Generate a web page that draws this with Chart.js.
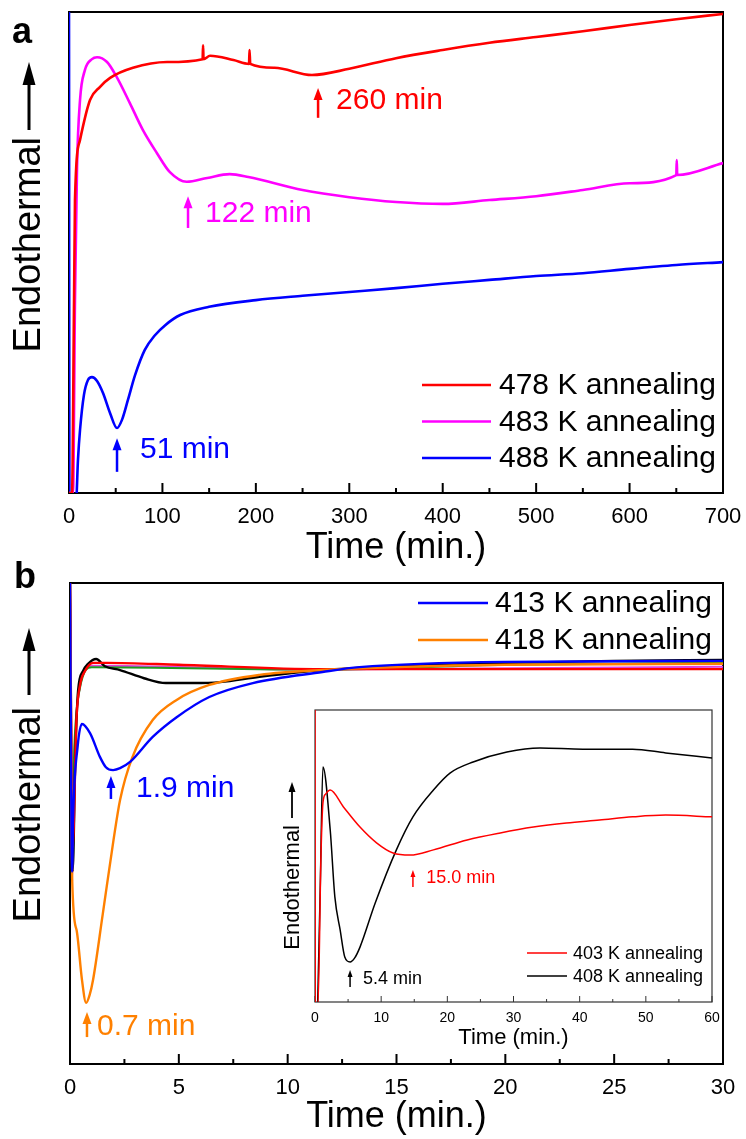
<!DOCTYPE html>
<html><head><meta charset="utf-8">
<script src="https://cdn.jsdelivr.net/npm/chart.js@4.4.1/dist/chart.umd.min.js"></script>
<style>
html,body{margin:0;padding:0;background:#fff;width:746px;height:1139px;overflow:hidden;}
canvas{position:absolute;}
</style></head><body>
<canvas id="ca" width="746" height="570" style="left:0;top:0;width:746px;height:570px"></canvas>
<canvas id="cb" width="746" height="584" style="left:0;top:555px;width:746px;height:584px"></canvas>
<canvas id="ci" width="460" height="360" style="left:270px;top:700px;width:460px;height:360px"></canvas>
<script>
const FONT = '"Liberation Sans", Arial, Helvetica, sans-serif';

// ---------- Panel a (0-700 min) ----------
const timeA478 = [0, 3.2, 5.4, 6.4, 11.8, 22.5, 33, 44, 68.5, 105, 143, 143.5, 144, 151, 176, 192.7, 193.2, 194, 220, 260, 300, 350, 400, 450, 500, 550, 600, 650, 700];
const endoA478 = [0, 0, 40.1, 60.9, 73.4, 81.7, 84.4, 86.3, 88.4, 89.6, 90.2, 93.1, 90.2, 90.9, 90.0, 89.2, 92.1, 89.2, 88.4, 86.9, 88.2, 90.4, 92.1, 93.6, 94.8, 96.0, 97.3, 98.5, 99.6];
const timeA483 = [0, 4.3, 6.4, 8.6, 11.8, 17, 24.6, 30, 40.7, 51, 65, 79, 94, 108, 126, 148, 172, 192, 250, 300, 350, 400, 450, 500, 550, 600, 650, 650.5, 651, 700];
const endoA483 = [0, 0, 40.1, 67.8, 81.7, 87.9, 90.2, 90.6, 89.6, 86.5, 81.1, 75.5, 70.7, 66.7, 64.7, 65.5, 66.3, 65.7, 63.0, 61.5, 60.5, 60.1, 60.9, 61.7, 63.0, 64.4, 66.1, 69.2, 66.1, 68.6];
const timeA488 = [0, 0.5, 7.5, 9.6, 11.8, 16, 20.3, 24.6, 30, 36.4, 44, 51.4, 56.7, 63, 70.7, 81, 92, 103, 119, 150, 200, 250, 300, 350, 400, 450, 500, 550, 600, 650, 700];
const endoA488 = [100, -2, -2, 6.9, 13.1, 20.4, 23.5, 24.1, 23.3, 20.8, 16.6, 13.5, 15.2, 19.3, 24.5, 29.7, 32.8, 34.9, 37.0, 38.7, 40.1, 41.0, 41.8, 42.6, 43.5, 44.3, 45.1, 45.7, 46.6, 47.4, 48.0];
const ticksA = [0, 100, 200, 300, 400, 500, 600, 700];
const minorA = [50, 150, 250, 350, 450, 550, 650];

// ---------- Panel b (0-30 min) ----------
const timeBred = [0, 0.12, 0.3, 0.46, 0.69, 1.06, 1.7, 5, 11.6, 20, 30];
const endoBred = [100, 45, 72, 78.8, 81.7, 83.4, 83.4, 83.0, 82.1, 82.1, 82.1];
const timeBblk = [0, 0.12, 0.25, 0.37, 0.6, 0.83, 1.2, 1.6, 2.3, 3.4, 4.4, 5.7, 6.9, 8.7, 11.6, 15, 20, 25, 30];
const endoBblk = [100, 40, 65, 77.5, 81.7, 83.2, 84.2, 82.7, 81.9, 80.2, 79.2, 79.2, 79.4, 80.5, 81.9, 82.7, 83.4, 83.8, 84.0];
const timeB413 = [0, 0.1, 0.14, 0.35, 0.55, 0.92, 1.38, 1.65, 1.98, 2.3, 2.76, 3.8, 4.9, 6.4, 8.4, 11.6, 13.3, 20, 30];
const endoB413 = [100, 40, 50.7, 66, 70.7, 68.8, 63.8, 61.7, 61.1, 61.5, 62.8, 68.0, 72.1, 76.3, 79.2, 81.5, 82.5, 83.6, 83.8];
const timeB418 = [0, 0.1, 0.3, 0.55, 0.74, 0.9, 1.06, 1.5, 2.0, 2.3, 2.85, 3.8, 4.9, 6.4, 8.7, 11.6, 20, 30];
const endoB418 = [100, 38.3, 27.9, 17.5, 12.7, 14.3, 17.5, 31.0, 46.6, 54.9, 63.6, 71.5, 75.7, 78.8, 80.9, 81.9, 83.0, 83.2];
const timeBgrn = [0, 0.08, 0.2, 0.45, 1.0, 11.6, 20, 30];
const endoBgrn = [100, 45, 66, 78, 82.5, 82, 83, 83.4];
const timeBmag = [0, 0.1, 0.18, 0.4, 1.0, 11.6, 30];
const endoBmag = [100, 38, 60, 77, 82.8, 82, 82.6];
const ticksB = [0, 5, 10, 15, 20, 25, 30];
const minorB = [2.5, 7.5, 12.5, 17.5, 22.5, 27.5];

// ---------- Inset (0-60 min) ----------
const timeI403 = [0, 0.05, 0.45, 0.9, 1.2, 1.6, 2.3, 4.3, 6.8, 9.3, 11.8, 14.4, 17.9, 23, 28, 33, 38, 43, 48, 53, 60];
const endoI403 = [100, -1, -1, 50, 68.2, 71.2, 72.6, 66.8, 59.9, 54.5, 51.0, 50.3, 52.1, 55.5, 57.9, 59.9, 61.3, 62.3, 63.4, 64.0, 63.4];
const timeI408 = [0.4, 0.8, 1.2, 2.3, 3.0, 3.8, 4.5, 5.3, 6.0, 6.8, 9.1, 12.3, 14.8, 17.9, 20.4, 23.9, 29, 34, 40.5, 48, 53, 60];
const endoI408 = [-1, 40, 80.5, 58.9, 36.0, 24.7, 15.4, 13.7, 15.1, 18.8, 33.9, 52.1, 63.4, 72.6, 78.4, 82.2, 85.6, 87.0, 86.6, 86.6, 85.3, 83.6];
const ticksI = [0, 10, 20, 30, 40, 50, 60];
const minorI = [5, 15, 25, 35, 45, 55];

// annotations: arrow at x from y0 up to y1, text at (tx, ty)
const notesA = [
  {x: 266.6, y0: 78.0, y1: 84.2, tx: 285.9, ty: 81.5, text: '260 min', color: '#ff0000'},
  {x: 127.4, y0: 55.1, y1: 61.7, tx: 145.6, ty: 58.0, text: '122 min', color: '#ff00ff'},
  {x: 51.4, y0: 4.4, y1: 11.4, tx: 76, ty: 8.9, text: '51 min', color: '#0000ff'}
];
const notesB = [
  {x: 1.88, y0: 55.1, y1: 59.9, tx: 3.03, ty: 57.2, text: '1.9 min', color: '#0000ff'},
  {x: 0.78, y0: 5.6, y1: 10.8, tx: 1.24, ty: 7.7, text: '0.7 min', color: '#ff8000'}
];
const notesI = [
  {x: 14.8, y0: 39.4, y1: 45.2, tx: 16.8, ty: 42.5, text: '15.0 min', color: '#ff0000'},
  {x: 5.3, y0: 5.1, y1: 11.0, tx: 7.25, ty: 7.9, text: '5.4 min', color: '#000000'}
];

const pts = (xs, ys) => xs.map((x, i) => ({x: x, y: ys[i]}));
function ds(label, xs, ys, color, w, legend) {
  return {label: label, data: pts(xs, ys), borderColor: color, backgroundColor: color, borderWidth: w,
    pointRadius: 0, fill: false, cubicInterpolationMode: 'monotone', showInLegend: legend};
}

function arrow(ctx, x, yb, yt, headLen, headW, lw, color) {
  ctx.save();
  ctx.strokeStyle = color; ctx.fillStyle = color; ctx.lineWidth = lw;
  ctx.beginPath(); ctx.moveTo(x, yb); ctx.lineTo(x, yt + headLen * 0.7); ctx.stroke();
  ctx.beginPath(); ctx.moveTo(x, yt); ctx.lineTo(x - headW / 2, yt + headLen); ctx.lineTo(x + headW / 2, yt + headLen); ctx.closePath(); ctx.fill();
  ctx.restore();
}

function deco(cfg) {
  return {
    id: 'deco',
    beforeDraw(chart) {
      if (cfg.whiteBg) {
        const a = chart.chartArea, ctx = chart.ctx;
        ctx.save(); ctx.fillStyle = '#fff'; ctx.fillRect(a.left, a.top, a.right - a.left, a.bottom - a.top); ctx.restore();
      }
    },
    beforeDatasetsDraw(chart) {
      const a = chart.chartArea, ctx = chart.ctx, xs = chart.scales.x;
      ctx.save();
      ctx.strokeStyle = cfg.frameColor; ctx.lineWidth = cfg.frameW;
      ctx.strokeRect(a.left, a.top, a.right - a.left, a.bottom - a.top);
      ctx.lineWidth = cfg.tickW;
      const draw = (v, len) => { const p = xs.getPixelForValue(v); ctx.beginPath(); ctx.moveTo(p, a.bottom); ctx.lineTo(p, a.bottom - len); ctx.stroke(); };
      cfg.major.forEach(v => draw(v, cfg.majorLen));
      cfg.minor.forEach(v => draw(v, cfg.minorLen));
      ctx.restore();
    },
    afterDraw(chart) {
      const ctx = chart.ctx, xs = chart.scales.x, ys = chart.scales.y;
      ctx.save();
      // legend
      const L = cfg.legend;
      let row = 0;
      chart.data.datasets.forEach(d => {
        if (!d.showInLegend) return;
        const y = L.y + row * L.dy;
        ctx.strokeStyle = d.borderColor; ctx.lineWidth = L.lw;
        ctx.beginPath(); ctx.moveTo(L.x0, y); ctx.lineTo(L.x1, y); ctx.stroke();
        ctx.fillStyle = '#000'; ctx.font = L.font + 'px ' + FONT; ctx.textAlign = 'left'; ctx.textBaseline = 'middle';
        ctx.fillText(d.label, L.tx, y + 1);
        row++;
      });
      // annotations
      const N = cfg.note;
      cfg.notes.forEach(n => {
        const x = xs.getPixelForValue(n.x);
        arrow(ctx, x, ys.getPixelForValue(n.y0), ys.getPixelForValue(n.y1), N.head, N.headW, N.lw, n.color);
        ctx.fillStyle = n.color; ctx.font = N.font + 'px ' + FONT; ctx.textAlign = 'left'; ctx.textBaseline = 'middle';
        ctx.fillText(n.text, xs.getPixelForValue(n.tx), ys.getPixelForValue(n.ty));
      });
      // y label with arrow
      const Y = cfg.ylab;
      ctx.save();
      ctx.translate(Y.x, Y.textEnd); ctx.rotate(-Math.PI / 2);
      ctx.fillStyle = '#000'; ctx.font = Y.font + 'px ' + FONT; ctx.textAlign = 'right'; ctx.textBaseline = 'middle';
      ctx.fillText('Endothermal', 0, 1);
      ctx.restore();
      arrow(ctx, Y.x, Y.ab, Y.at, Y.head, Y.headW, Y.lw, '#000');
      // panel letter
      if (cfg.letter) {
        ctx.fillStyle = '#000'; ctx.font = 'bold 36px ' + FONT; ctx.textAlign = 'left'; ctx.textBaseline = 'alphabetic';
        ctx.fillText(cfg.letter.t, cfg.letter.x, cfg.letter.y);
      }
      ctx.restore();
    }
  };
}

function makeChart(id, datasets, o) {
  return new Chart(document.getElementById(id), {
    type: 'line',
    data: {datasets: datasets},
    options: {
      responsive: false, animation: false, events: [],
      layout: {padding: o.pad},
      plugins: {legend: {display: false}, tooltip: {enabled: false}},
      scales: {
        x: {type: 'linear', min: o.xmin, max: o.xmax,
          afterBuildTicks: s => { s.ticks = o.ticks.map(v => ({value: v})); },
          afterFit: s => { s.height = o.axisH; },
          grid: {display: false}, border: {display: false},
          ticks: {font: {family: FONT, size: o.tickFont}, color: '#000', padding: o.tickPad, maxRotation: 0, autoSkip: false},
          title: {display: true, text: 'Time (min.)', color: '#000', font: {family: FONT, size: o.titleFont}, padding: {top: 0, bottom: o.titlePad}}
        },
        y: {type: 'linear', min: 0, max: 100, display: false}
      }
    },
    plugins: [deco(o.deco)]
  });
}

makeChart('ca', [
  ds('478 K annealing', timeA478, endoA478, '#ff0000', 2.6, true),
  ds('483 K annealing', timeA483, endoA483, '#ff00ff', 2.6, true),
  ds('488 K annealing', timeA488, endoA488, '#0000ff', 2.6, true)
], {
  pad: {left: 69, right: 23, top: 12, bottom: 0}, xmin: 0, xmax: 700, ticks: ticksA, axisH: 77,
  tickFont: 22, tickPad: 3, titleFont: 36, titlePad: 0,
  deco: {frameColor: '#000', frameW: 2, tickW: 2, major: ticksA, minor: minorA, majorLen: 10, minorLen: 5,
    legend: {x0: 422, x1: 491, tx: 499, y: 385, dy: 36.5, font: 30, lw: 2.5},
    notes: notesA, note: {font: 30, head: 12, headW: 9, lw: 2.5},
    ylab: {x: 29, textEnd: 137, font: 38, ab: 130, at: 62, head: 23, headW: 13, lw: 3},
    letter: {t: 'a', x: 12, y: 43}}
});

makeChart('cb', [
  ds('413 K annealing', timeB413, endoB413, '#0000ff', 2.4, true),
  ds('418 K annealing', timeB418, endoB418, '#ff8000', 2.4, true),
  ds('403 K annealing', timeBred, endoBred, '#ff0000', 2.4, false),
  ds('408 K annealing', timeBblk, endoBblk, '#000000', 2.4, false),
  ds('green', timeBgrn, endoBgrn, '#1f9a1f', 2, false),
  ds('magenta', timeBmag, endoBmag, '#e040e0', 2, false)
], {
  pad: {left: 70, right: 23, top: 28, bottom: 0}, xmin: 0, xmax: 30, ticks: ticksB, axisH: 75,
  tickFont: 22, tickPad: 3, titleFont: 36, titlePad: 0,
  deco: {frameColor: '#000', frameW: 2, tickW: 2, major: ticksB, minor: minorB, majorLen: 10, minorLen: 5,
    legend: {x0: 418, x1: 488, tx: 495, y: 48, dy: 37, font: 30, lw: 2.5},
    notes: notesB, note: {font: 30, head: 12, headW: 9, lw: 2.5},
    ylab: {x: 29, textEnd: 152, font: 38, ab: 140, at: 73, head: 23, headW: 13, lw: 3},
    letter: {t: 'b', x: 14, y: 33}}
});

makeChart('ci', [
  ds('403 K annealing', timeI403, endoI403, '#ff0000', 1.5, true),
  ds('408 K annealing', timeI408, endoI408, '#000000', 1.5, true)
], {
  pad: {left: 45, right: 18, top: 10, bottom: 0}, xmin: 0, xmax: 60, ticks: ticksI, axisH: 58,
  tickFont: 14, tickPad: 0, titleFont: 22, titlePad: 9,
  deco: {whiteBg: true, frameColor: '#333', frameW: 1.2, tickW: 1, major: ticksI, minor: minorI, majorLen: 6, minorLen: 3,
    legend: {x0: 257, x1: 297, tx: 303, y: 253, dy: 23, font: 18, lw: 1.5},
    notes: notesI, note: {font: 18, head: 7, headW: 5, lw: 1.5},
    ylab: {x: 22, textEnd: 125, font: 22, ab: 118, at: 82, head: 10, headW: 7, lw: 1.8},
    letter: null}
});
</script></body></html>
